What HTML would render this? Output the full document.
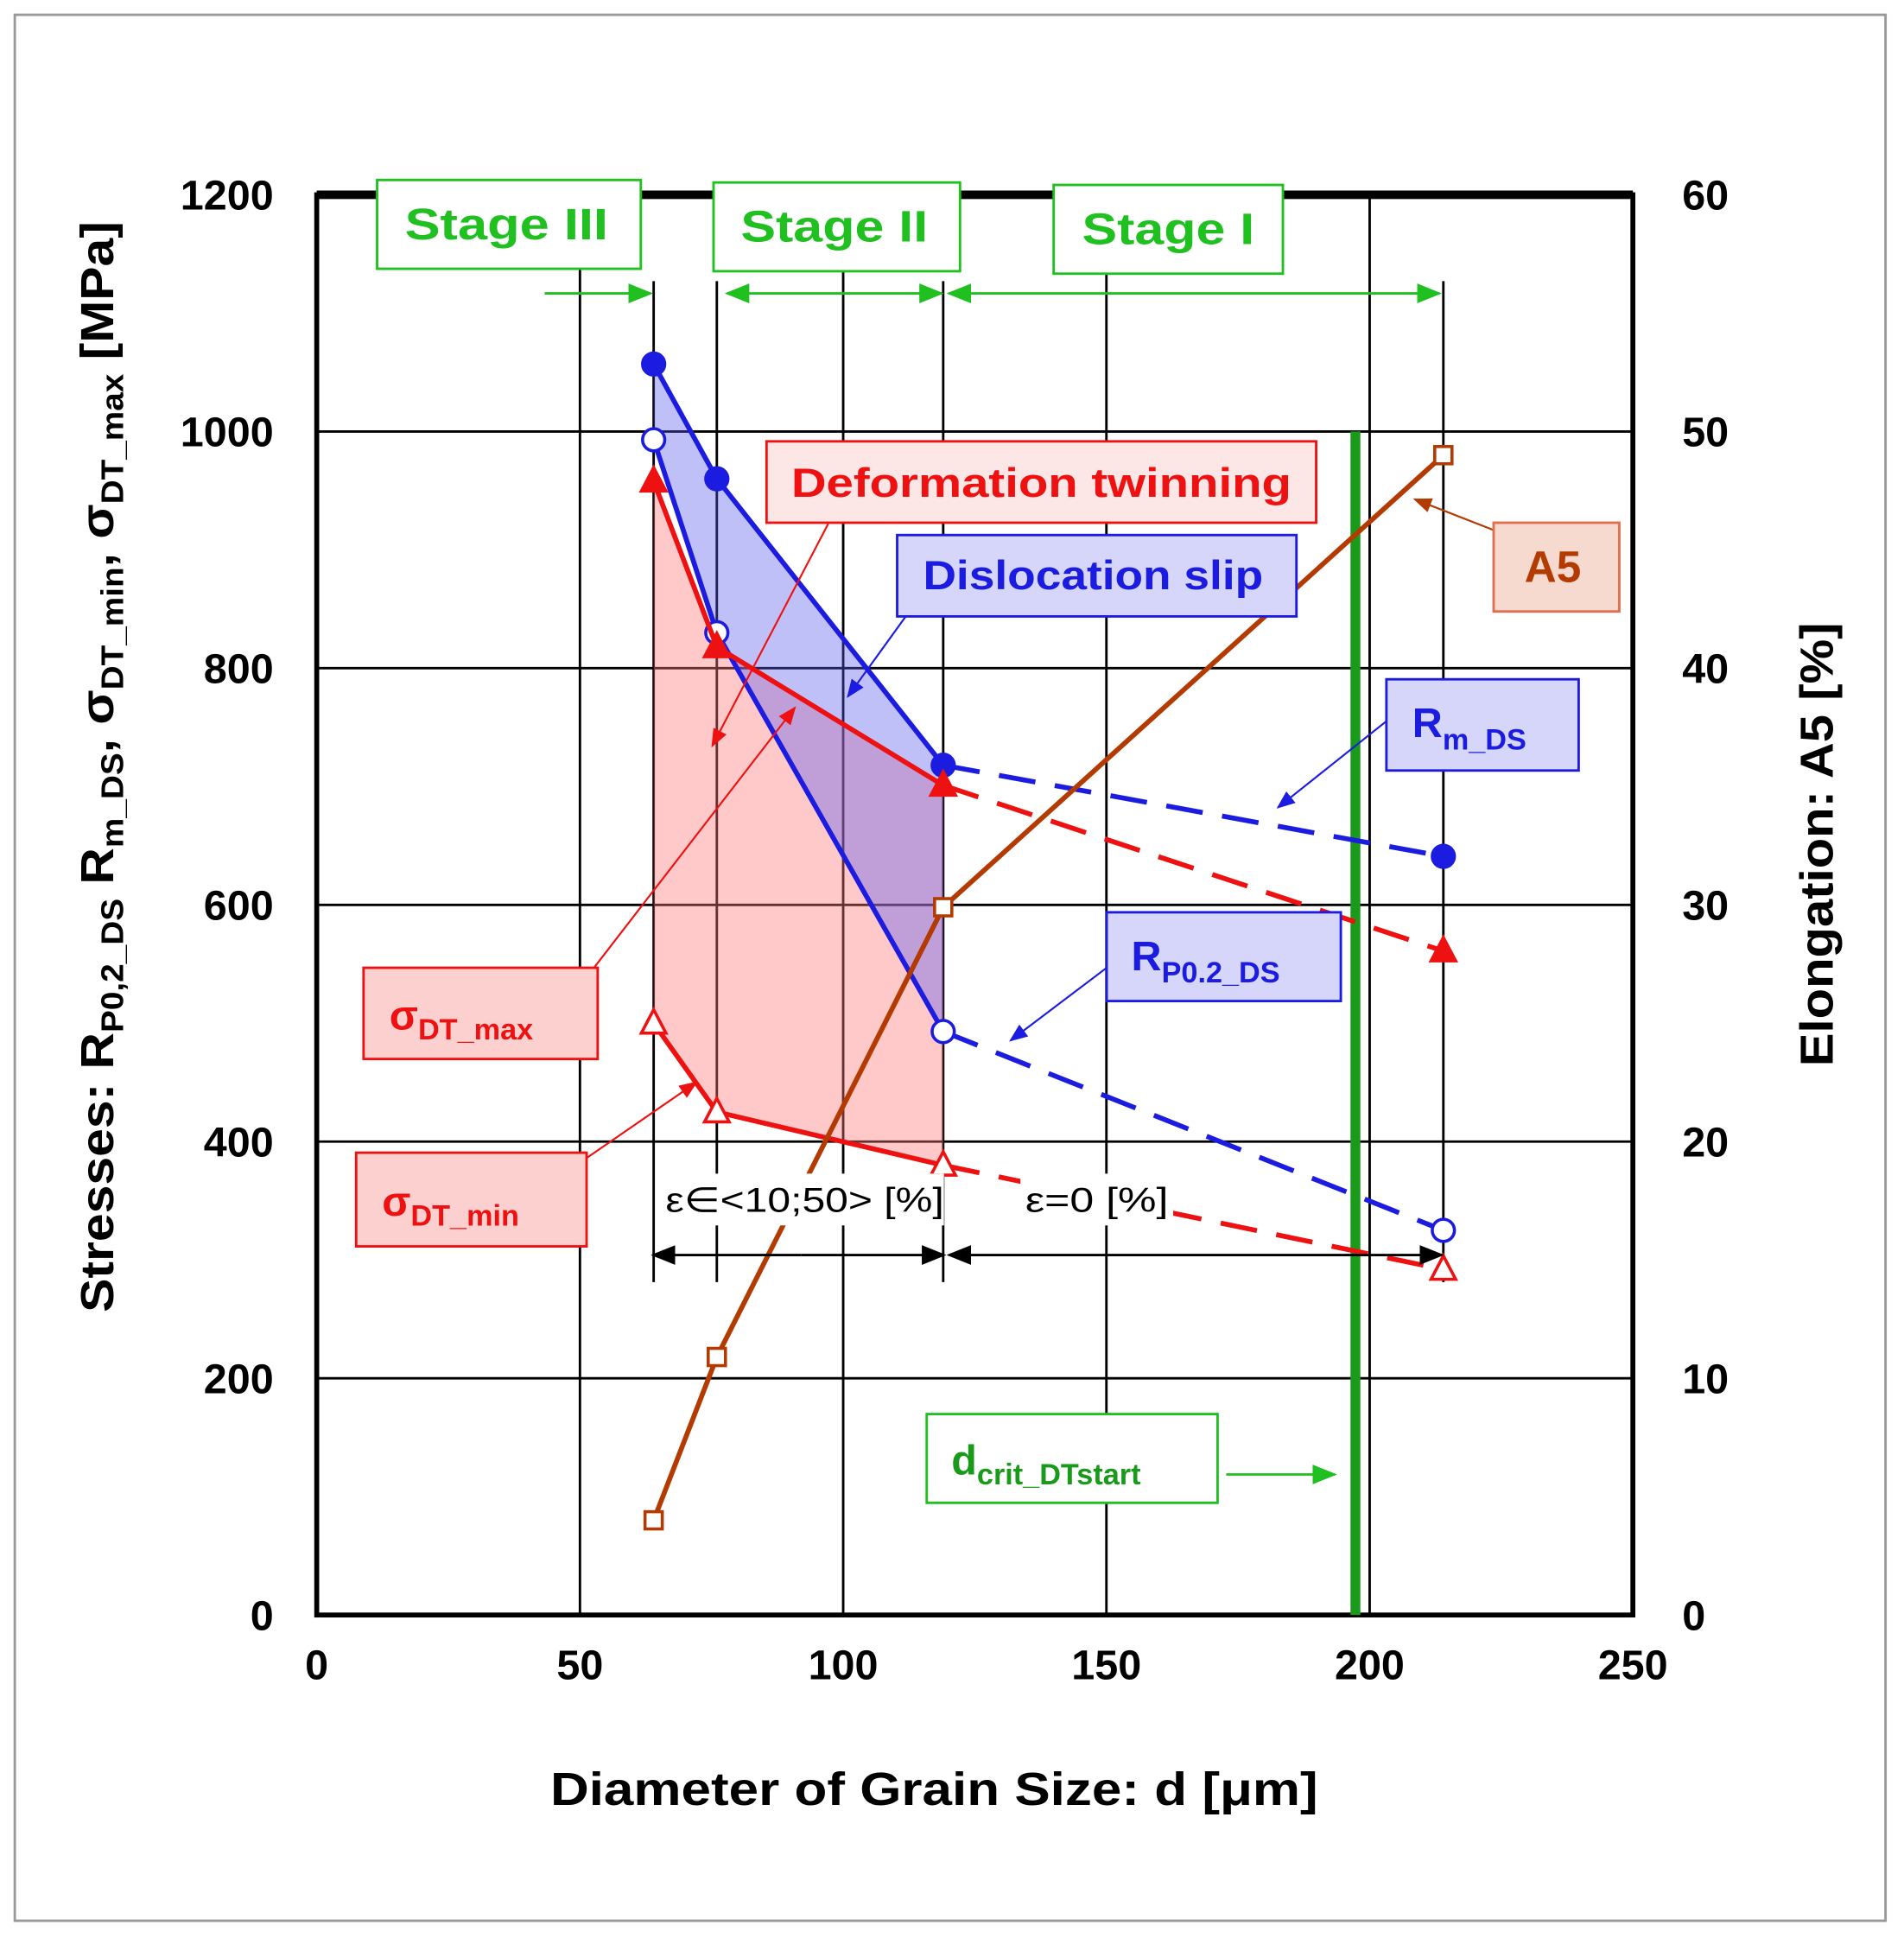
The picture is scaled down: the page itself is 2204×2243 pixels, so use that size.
<!DOCTYPE html>
<html><head><meta charset="utf-8"><style>
html,body{margin:0;padding:0;background:#fff}
svg{display:block}
text{font-family:"Liberation Sans",sans-serif;font-weight:bold}
</style></head><body>
<svg id="chart" width="2204" height="2243" viewBox="0 0 1545 1572" preserveAspectRatio="none" xmlns="http://www.w3.org/2000/svg">
<rect x="12" y="12" width="1518" height="1546" fill="#fff" stroke="#999" stroke-width="2"/>
<g id="grid"></g>
<g id="shade"></g>
<g id="series"></g>
<g id="labels"></g>
</svg>
<script>
const grainSize=[64,76,119,214];
const rmDS=[1057,960,718,641];
const rp02DS=[993,830,493,325];
const sigmaMax=[958,818,701,561];
const sigmaMin=[500,425,380,292];
const a5=[4.0,10.9,29.9,49.0];
const xTicks=[0,50,100,150,200,250];
const yTicks=[0,200,400,600,800,1000,1200];
const y2Ticks=[0,10,20,30,40,50,60];
const dCrit=197.3;

const L=257,R=1325,T=158,B=1310;
const X=v=>L+(R-L)*v/250;
const Y=v=>B-(B-T)*v/1200;
const Y2=v=>B-(B-T)*v/60;
const NS="http://www.w3.org/2000/svg";
function mk(tag,attrs,parent,txt){const e=document.createElementNS(NS,tag);for(const k in attrs)e.setAttribute(k,attrs[k]);if(txt!==undefined)e.textContent=txt;document.getElementById(parent).appendChild(e);return e;}

yTicks.forEach(v=>{if(v>0&&v<1200){const l=mk('line',{x1:L,x2:R,y1:Y(v),y2:Y(v),stroke:'#000','stroke-width':2},'grid');}
 const t=mk('text',{x:222,y:Y(v)+12,'text-anchor':'end','font-size':34},'grid',String(v));});
y2Ticks.forEach(v=>{const t=mk('text',{x:1365,y:Y2(v)+12,'font-size':34},'grid',String(v));});
xTicks.forEach(v=>{if(v>0&&v<250){const l=mk('line',{x1:X(v),x2:X(v),y1:T,y2:B,stroke:'#000','stroke-width':2},'grid');}
 const t=mk('text',{x:X(v),y:1362,'text-anchor':'middle','font-size':34},'grid',String(v));});
grainSize.forEach(v=>{const l=mk('line',{x1:X(v),x2:X(v),y1:228,y2:1040,stroke:'#000','stroke-width':2},'grid');});
let fr=mk('rect',{x:L,y:T,width:R-L,height:B-T,fill:'none',stroke:'#000','stroke-width':4},'grid');

let tb=mk('line',{x1:L,x2:R,y1:T,y2:T,stroke:'#000','stroke-width':7},'grid');


const n=3;
let pk=[];for(let i=0;i<n;i++)pk.push(X(grainSize[i])+','+Y(sigmaMax[i]));for(let i=n-1;i>=0;i--)pk.push(X(grainSize[i])+','+Y(sigmaMin[i]));
let p1=mk('polygon',{points:pk.join(' '),fill:'rgba(255,120,120,0.4)'},'shade');

let bl=[];for(let i=0;i<n;i++)bl.push(X(grainSize[i])+','+Y(rmDS[i]));for(let i=n-1;i>=0;i--)bl.push(X(grainSize[i])+','+Y(rp02DS[i]));
let p2=mk('polygon',{points:bl.join(' '),fill:'rgba(90,90,240,0.38)'},'shade');


let gl=mk('line',{x1:X(dCrit),x2:X(dCrit),y1:Y(1000),y2:B,stroke:'#1a9a1a','stroke-width':8},'series');


function series(vals,fy,color,name,marker,fill){
 const pts=vals.map((v,i)=>[X(grainSize[i]),fy(v)]);
 const s=mk('polyline',{points:pts.slice(0,3).map(p=>p.join(',')).join(' '),fill:'none',stroke:color,'stroke-width':4},'series');
 
 if(name!=='a5'){const d=mk('line',{x1:pts[2][0],y1:pts[2][1],x2:pts[3][0],y2:pts[3][1],stroke:color,'stroke-width':4,'stroke-dasharray':'30,16'},'series');
 }
 else {const d=mk('line',{x1:pts[2][0],y1:pts[2][1],x2:pts[3][0],y2:pts[3][1],stroke:color,'stroke-width':4},'series');
 }
 pts.forEach(p=>{let m;
  if(marker==='c')m=mk('circle',{cx:p[0],cy:p[1],r:9,fill:fill,stroke:color,'stroke-width':2.5},'series');
  else if(marker==='t')m=mk('polygon',{points:`${p[0]},${p[1]-11} ${p[0]-10},${p[1]+8} ${p[0]+10},${p[1]+8}`,fill:fill,stroke:color,'stroke-width':2.5},'series');
  else m=mk('rect',{x:p[0]-7,y:p[1]-7,width:14,height:14,fill:fill,stroke:color,'stroke-width':2.5},'series');
  });
}
series(rmDS,Y,'#1c1ce0','rm-ds','c','#1c1ce0');
series(rp02DS,Y,'#1c1ce0','rp02-ds','c','#fff');
series(sigmaMax,Y,'#ee1111','sigma-dt-max','t','#ee1111');
series(sigmaMin,Y,'#ee1111','sigma-dt-min','t','#fff');
series(a5,Y2,'#b33a00','a5','s','#fff');
</script>
<svg style="position:absolute;left:0;top:0" width="2204" height="2243" viewBox="0 0 1545 1572" preserveAspectRatio="none" xmlns="http://www.w3.org/2000/svg">
<defs><marker id="ag" markerWidth="10" markerHeight="10" refX="9" refY="5" orient="auto"><path d="M0,1 L10,5 L0,9z" fill="#1fc01f"/></marker>
<marker id="ak" markerWidth="10" markerHeight="10" refX="9" refY="5" orient="auto"><path d="M0,1 L10,5 L0,9z" fill="#000"/></marker>
<marker id="ab" markerWidth="10" markerHeight="10" refX="9" refY="5" orient="auto"><path d="M0,1 L10,5 L0,9z" fill="#1c1ce0"/></marker>
<marker id="ar" markerWidth="10" markerHeight="10" refX="9" refY="5" orient="auto"><path d="M0,1 L10,5 L0,9z" fill="#ee1111"/></marker>
<marker id="ao" markerWidth="10" markerHeight="10" refX="9" refY="5" orient="auto"><path d="M0,1 L10,5 L0,9z" fill="#b33a00"/></marker></defs>
<g stroke="#1fc01f" stroke-width="2">
<line x1="442" y1="238" x2="528" y2="238" marker-end="url(#ag)"/>
<line x1="683" y1="238" x2="590" y2="238" marker-end="url(#ag)"/><line x1="683" y1="238" x2="764" y2="238" marker-end="url(#ag)"/>
<line x1="960" y1="238" x2="770" y2="238" marker-end="url(#ag)"/><line x1="960" y1="238" x2="1168" y2="238" marker-end="url(#ag)"/>
<line x1="995" y1="1196" x2="1083" y2="1196" marker-end="url(#ag)"/></g>
<g fill="#fff" stroke="#1fc01f" stroke-width="2">
<rect x="306" y="146" width="214" height="72"/>
<rect x="579" y="148" width="200" height="72"/>
<rect x="855" y="150" width="186" height="72"/>
<rect x="752" y="1147" width="236" height="72"/></g>
<g fill="#1fc01f" font-size="36" text-anchor="middle" lengthAdjust="spacingAndGlyphs">
<text x="411" y="194" textLength="165" lengthAdjust="spacingAndGlyphs">Stage III</text>
<text x="677" y="196" textLength="152" lengthAdjust="spacingAndGlyphs">Stage II</text>
<text x="948" y="198" textLength="140" lengthAdjust="spacingAndGlyphs">Stage I</text></g>
<text x="772" y="1196" fill="#1a9a1a" font-size="34">d<tspan font-size="24" dy="8">crit_DTstart</tspan></text>
<g stroke-width="1.5" fill="none">
<line x1="672" y1="425" x2="578" y2="605" stroke="#ee1111" marker-end="url(#ar)"/>
<line x1="735" y1="500" x2="688" y2="565" stroke="#1c1ce0" marker-end="url(#ab)"/>
<line x1="482" y1="785" x2="645" y2="574" stroke="#ee1111" marker-end="url(#ar)"/>
<line x1="475" y1="940" x2="565" y2="878" stroke="#ee1111" marker-end="url(#ar)"/>
<line x1="1125" y1="585" x2="1037" y2="655" stroke="#1c1ce0" marker-end="url(#ab)"/>
<line x1="898" y1="785" x2="820" y2="844" stroke="#1c1ce0" marker-end="url(#ab)"/>
<line x1="1212" y1="430" x2="1148" y2="405" stroke="#b33a00" marker-end="url(#ao)"/></g>
<rect x="622" y="358" width="446" height="66" fill="#fde6e6" stroke="#ee1111" stroke-width="2"/>
<text x="845" y="403" fill="#ee1111" font-size="33" text-anchor="middle" textLength="406" lengthAdjust="spacingAndGlyphs">Deformation twinning</text>
<rect x="728" y="434" width="324" height="66" fill="#d6d6fb" stroke="#1c1ce0" stroke-width="2"/>
<text x="887" y="478" fill="#1c1ce0" font-size="33" text-anchor="middle" textLength="276" lengthAdjust="spacingAndGlyphs">Dislocation slip</text>
<rect x="1212" y="424" width="102" height="72" fill="#f6d9cf" stroke="#e07050" stroke-width="2"/>
<text x="1260" y="472" fill="#b33a00" font-size="36" text-anchor="middle">A5</text>
<rect x="1125" y="551" width="156" height="74" fill="#d6d6fb" stroke="#1c1ce0" stroke-width="2"/>
<text x="1146" y="598" fill="#1c1ce0" font-size="34">R<tspan font-size="24" dy="10">m_DS</tspan></text>
<rect x="898" y="740" width="190" height="72" fill="#d6d6fb" stroke="#1c1ce0" stroke-width="2"/>
<text x="918" y="787" fill="#1c1ce0" font-size="34">R<tspan font-size="24" dy="10">P0.2_DS</tspan></text>
<rect x="295" y="785" width="190" height="74" fill="#fdd0d0" stroke="#ee1111" stroke-width="2"/>
<text x="316" y="835" fill="#ee1111" font-size="34">σ<tspan font-size="24" dy="8">DT_max</tspan></text>
<rect x="289" y="935" width="187" height="76" fill="#fdd0d0" stroke="#ee1111" stroke-width="2"/>
<text x="310" y="986" fill="#ee1111" font-size="34">σ<tspan font-size="24" dy="8">DT_min</tspan></text>
<rect x="538" y="952" width="228" height="42" fill="#fff"/>
<text x="540" y="983" font-size="28" textLength="226" lengthAdjust="spacingAndGlyphs" style="font-weight:normal">ε∈&lt;10;50&gt; [%]</text>
<rect x="828" y="952" width="124" height="42" fill="#fff"/>
<text x="832" y="983" font-size="28" textLength="116" lengthAdjust="spacingAndGlyphs" style="font-weight:normal">ε=0 [%]</text>
<g stroke="#000" stroke-width="2">
<line x1="650" y1="1018" x2="530" y2="1018" marker-end="url(#ak)"/><line x1="650" y1="1018" x2="766" y2="1018" marker-end="url(#ak)"/>
<line x1="960" y1="1018" x2="770" y2="1018" marker-end="url(#ak)"/><line x1="960" y1="1018" x2="1170" y2="1018" marker-end="url(#ak)"/></g>
<text x="758" y="1464" font-size="38" text-anchor="middle" textLength="623" lengthAdjust="spacingAndGlyphs">Diameter of Grain Size: d [μm]</text>
<text transform="translate(92,622) rotate(-90)" font-size="38" text-anchor="middle" textLength="885" lengthAdjust="spacingAndGlyphs">Stresses: R<tspan font-size="25" dy="8">P0,2_DS</tspan><tspan dy="-8"> R</tspan><tspan font-size="25" dy="8">m_DS</tspan><tspan dy="-8">, σ</tspan><tspan font-size="25" dy="8">DT_min</tspan><tspan dy="-8">, σ</tspan><tspan font-size="25" dy="8">DT_max</tspan><tspan dy="-8"> [MPa]</tspan></text>
<text transform="translate(1487,685) rotate(-90)" font-size="38" text-anchor="middle" textLength="360" lengthAdjust="spacingAndGlyphs">Elongation: A5 [%]</text>
</svg>
</body></html>
